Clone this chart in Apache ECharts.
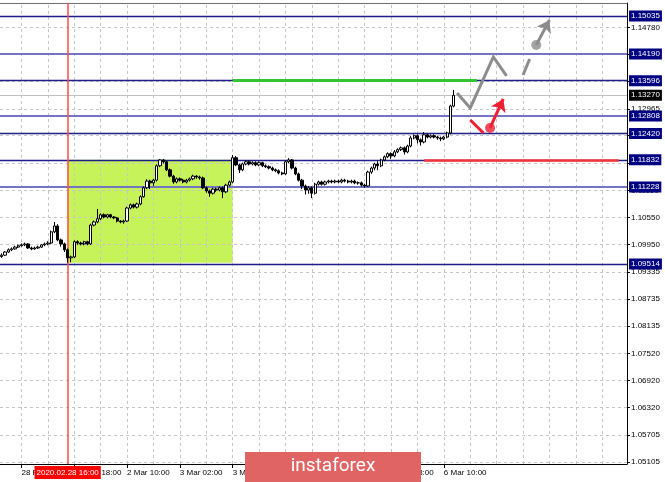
<!DOCTYPE html>
<html><head><meta charset="utf-8">
<script src="https://cdn.jsdelivr.net/npm/echarts@6/dist/echarts.min.js"></script>
<style>html,body{margin:0;padding:0;background:#fff}#c{width:665px;height:482px}</style>
</head><body><div id="c"></div>
<script>
// ---- data ----
const totalSlots = 190;               // hourly slots on the axis (incl. empty future space)
const startUTC = [2020, 1, 27, 20];   // first bar: 27 Feb 2020 20:00
// [open, close, low, high]
const candles = [
[1.0968,1.0971,1.0965,1.0975],[1.0971,1.0978,1.0969,1.0980],[1.0978,1.0983,1.0976,1.0986],[1.0983,1.0985,1.0980,1.0988],
[1.0985,1.0989,1.0983,1.0992],[1.0989,1.0992,1.0987,1.0995],[1.0992,1.0994,1.0990,1.0997],[1.0994,1.0996,1.0991,1.0999],
[1.0996,1.0987,1.0985,1.0998],[1.0987,1.0985,1.0982,1.0990],[1.0985,1.0987,1.0983,1.0990],[1.0987,1.0989,1.0985,1.0992],
[1.0989,1.0994,1.0987,1.0996],[1.0994,1.0996,1.0991,1.0999],[1.0996,1.0998,1.0993,1.1002],[1.0998,1.1023,1.0996,1.1026],
[1.1023,1.1036,1.1020,1.1045],[1.1036,1.1005,1.1002,1.1040],[1.1005,1.0996,1.0990,1.1008],[1.0996,1.0983,1.0978,1.0999],
[1.0983,1.0965,1.0954,1.0986],[1.0965,1.0967,1.0955,1.0970],[1.0967,1.1001,1.0965,1.1004],[1.1001,1.0998,1.0994,1.1004],
[1.0998,1.0996,1.0993,1.1001],[1.0996,1.1001,1.0993,1.1003],[1.1001,1.0996,1.0993,1.1003],[1.0996,1.1038,1.0994,1.1041],
[1.1038,1.1045,1.1035,1.1048],[1.1045,1.1052,1.1042,1.1074],[1.1052,1.1061,1.1049,1.1064],[1.1061,1.1056,1.1053,1.1064],
[1.1056,1.1061,1.1053,1.1063],[1.1061,1.1056,1.1053,1.1063],[1.1056,1.1054,1.1051,1.1058],[1.1054,1.1047,1.1044,1.1056],
[1.1047,1.1045,1.1042,1.1049],[1.1045,1.1047,1.1041,1.1050],[1.1047,1.1076,1.1045,1.1079],[1.1076,1.1083,1.1073,1.1086],
[1.1083,1.1078,1.1075,1.1086],[1.1078,1.1085,1.1075,1.1088],[1.1085,1.1101,1.1082,1.1104],[1.1101,1.1121,1.1099,1.1124],
[1.1121,1.1136,1.1118,1.1140],[1.1136,1.1132,1.1118,1.1139],[1.1132,1.1138,1.1125,1.1141],[1.1138,1.1170,1.1135,1.1173],
[1.1170,1.1183,1.1167,1.1185],[1.1183,1.1179,1.1175,1.1185],[1.1179,1.1161,1.1158,1.1181],[1.1161,1.1147,1.1144,1.1164],
[1.1147,1.1134,1.1130,1.1150],[1.1134,1.1141,1.1131,1.1144],[1.1141,1.1138,1.1135,1.1144],[1.1138,1.1134,1.1131,1.1141],
[1.1134,1.1138,1.1131,1.1141],[1.1138,1.1141,1.1135,1.1144],[1.1141,1.1147,1.1138,1.1150],[1.1147,1.1145,1.1141,1.1149],
[1.1145,1.1143,1.1139,1.1148],[1.1143,1.1121,1.1118,1.1146],[1.1121,1.1114,1.1110,1.1124],[1.1114,1.1109,1.1101,1.1117],
[1.1109,1.1118,1.1106,1.1121],[1.1118,1.1116,1.1112,1.1121],[1.1116,1.1121,1.1113,1.1124],[1.1121,1.1112,1.1098,1.1124],
[1.1112,1.1127,1.1109,1.1130],[1.1127,1.1134,1.1124,1.1137],[1.1134,1.1188,1.1131,1.1194],[1.1188,1.1172,1.1169,1.1192],
[1.1172,1.1161,1.1154,1.1175],[1.1161,1.1174,1.1158,1.1177],[1.1174,1.1179,1.1171,1.1182],[1.1179,1.1174,1.1171,1.1182],
[1.1174,1.1177,1.1171,1.1180],[1.1177,1.1172,1.1169,1.1180],[1.1172,1.1177,1.1169,1.1180],[1.1177,1.1170,1.1167,1.1179],
[1.1170,1.1168,1.1165,1.1173],[1.1168,1.1165,1.1162,1.1171],[1.1165,1.1161,1.1158,1.1168],[1.1161,1.1159,1.1156,1.1164],
[1.1159,1.1154,1.1151,1.1162],[1.1154,1.1152,1.1149,1.1157],[1.1152,1.1179,1.1150,1.1182],[1.1179,1.1183,1.1176,1.1187],
[1.1183,1.1165,1.1162,1.1185],[1.1165,1.1152,1.1149,1.1168],[1.1152,1.1138,1.1135,1.1155],[1.1138,1.1125,1.1118,1.1141],
[1.1125,1.1116,1.1106,1.1128],[1.1116,1.1121,1.1108,1.1125],[1.1121,1.1109,1.1098,1.1124],[1.1109,1.1129,1.1106,1.1132],
[1.1129,1.1134,1.1126,1.1137],[1.1134,1.1129,1.1126,1.1137],[1.1129,1.1134,1.1126,1.1137],[1.1134,1.1136,1.1131,1.1139],
[1.1136,1.1134,1.1131,1.1139],[1.1134,1.1136,1.1131,1.1139],[1.1136,1.1134,1.1131,1.1139],[1.1134,1.1138,1.1131,1.1141],
[1.1138,1.1136,1.1133,1.1141],[1.1136,1.1134,1.1131,1.1139],[1.1134,1.1136,1.1131,1.1139],[1.1136,1.1132,1.1129,1.1139],
[1.1132,1.1132,1.1128,1.1135],[1.1132,1.1127,1.1124,1.1135],[1.1127,1.1125,1.1121,1.1130],[1.1125,1.1156,1.1123,1.1159],
[1.1156,1.1165,1.1152,1.1168],[1.1165,1.1174,1.1160,1.1177],[1.1174,1.1170,1.1160,1.1180],[1.1170,1.1183,1.1167,1.1186],
[1.1183,1.1190,1.1180,1.1193],[1.1190,1.1197,1.1187,1.1200],[1.1197,1.1192,1.1185,1.1200],[1.1192,1.1201,1.1189,1.1205],
[1.1201,1.1206,1.1198,1.1209],[1.1206,1.1210,1.1203,1.1213],[1.1210,1.1201,1.1195,1.1213],[1.1201,1.1214,1.1198,1.1217],
[1.1214,1.1232,1.1211,1.1236],[1.1232,1.1237,1.1229,1.1240],[1.1237,1.1228,1.1220,1.1240],[1.1228,1.1223,1.1215,1.1231],
[1.1223,1.1239,1.1220,1.1245],[1.1239,1.1234,1.1231,1.1242],[1.1234,1.1237,1.1231,1.1240],[1.1237,1.1234,1.1231,1.1240],
[1.1234,1.1232,1.1228,1.1237],[1.1232,1.1230,1.1225,1.1235],[1.1230,1.1234,1.1227,1.1237],[1.1234,1.1243,1.1231,1.1246],
[1.1243,1.1303,1.1240,1.1306],[1.1303,1.1327,1.1300,1.1339]
];
const yTicks = [1.05105,1.05705,1.06320,1.06920,1.07520,1.08135,1.08735,1.09335,1.09950,1.10550,1.11150,1.11765,1.12380,1.12965,1.13580,1.14180,1.14780];
const xTickLabels = ['28 Feb 02:00','28 Feb 18:00','2 Mar 10:00','3 Mar 02:00','3 Mar 18:00','4 Mar 10:00','5 Mar 02:00','5 Mar 18:00','6 Mar 10:00'];
const levelsDark = [1.15035, 1.13596, 1.12420, 1.11832, 1.09514];
const levelsLight = [1.14190, 1.12808, 1.11228];
const bidPrice = 1.13270;
const crossIndex = 20, crossLabel = '2020.02.28 16:00';
const zoneFrom = 20, zoneTo = 70, zoneTop = 1.11832, zoneBottom = 1.0954;
const greenLine = [[70, 1.13596], [144, 1.13596]];
const redLine = [[128, 1.11832], [187, 1.11832]];
const grayPath = [[138, 1.13322], [142, 1.12988], [149, 1.14123], [153, 1.13700]];
const grayDash = [[158, 1.13722], [160, 1.14079]];
const grayDot = [162, 1.14390];
const grayArrow = [[162, 1.14390], [166, 1.14947]];
const redDash = [[142, 1.12720], [146, 1.12431]];
const redDot = [148, 1.12542];
const redArrow = [[148, 1.12542], [152, 1.13188]];
const yMin = 1.0506, yMax = 1.15325;

// ---- categories (hourly, weekends skipped) ----
const MON = ['Jan','Feb','Mar','Apr','May','Jun','Jul','Aug','Sep','Oct','Nov','Dec'];
const pad = n => (n < 10 ? '0' : '') + n;
const cats = [];
let t = Date.UTC(startUTC[0], startUTC[1], startUTC[2], startUTC[3]);
while (cats.length < totalSlots) {
  const d = new Date(t);
  const wd = d.getUTCDay();
  if (wd !== 0 && wd !== 6) cats.push(d.getUTCDate() + ' ' + MON[d.getUTCMonth()] + ' ' + pad(d.getUTCHours()) + ':00');
  t += 3600000;
}
const vGridIdx = [];
for (let i = 6; i < totalSlots; i += 8) vGridIdx.push(i);

const FONT = 'Liberation Sans';
const gridLine = {color: '#c6c6c6', type: [3, 3], width: 1};

const chart = echarts.init(document.getElementById('c'), null, {renderer: 'canvas'});
chart.setOption({
  animation: false,
  backgroundColor: '#fff',
  grid: {left: 0, right: 38, top: 3, bottom: 18, containLabel: false},
  xAxis: [{
    type: 'category', data: cats, boundaryGap: true,
    axisLine: {lineStyle: {color: '#000', width: 1}},
    axisTick: {show: true, alignWithLabel: true, length: 4, lineStyle: {color: '#000'},
      interval: (i, v) => xTickLabels.includes(v)},
    axisLabel: {interval: (i, v) => xTickLabels.includes(v), align: 'left', margin: 5,
      fontSize: 8, fontFamily: FONT, color: '#000'},
    splitLine: {show: false}
  }, {
    type: 'category', data: cats, position: 'top', boundaryGap: true,
    axisLine: {lineStyle: {color: '#6e6e6e', width: 1}},
    axisTick: {show: false}, axisLabel: {show: false}, splitLine: {show: false}
  }],
  yAxis: {
    type: 'value', position: 'right', min: yMin, max: yMax, scale: true,
    axisLine: {show: true, lineStyle: {color: '#000', width: 1}},
    axisTick: {show: true, length: 3, lineStyle: {color: '#000'}, customValues: yTicks},
    axisLabel: {customValues: yTicks, formatter: v => v.toFixed(5), margin: 4,
      fontSize: 8, fontFamily: FONT, color: '#000'},
    splitLine: {show: false}
  },
  series: [
    { // green zone
      type: 'line', data: [], z: 1, clip: false,
      markArea: {silent: true, itemStyle: {color: '#c6f35a'},
        data: [[{xAxis: cats[zoneFrom], yAxis: zoneTop}, {xAxis: cats[zoneTo], yAxis: zoneBottom}]]}
    },
    { // dashed grid
      type: 'line', data: [], z: 2, clip: false,
      markLine: {silent: true, precision: 6, symbol: ['none', 'none'], label: {show: false},
        data: yTicks.map(v => ({yAxis: v, lineStyle: gridLine}))
          .concat(vGridIdx.map(i => ({xAxis: cats[i], lineStyle: gridLine})))}
    },
    { // levels
      type: 'line', data: [], z: 3, clip: false,
      markLine: {silent: true, precision: 6, symbol: ['none', 'none'],
        data: levelsDark.map(v => ({yAxis: v, lineStyle: {color: '#1f1f8c', width: 1.3, type: 'solid'},
            label: {formatter: v.toFixed(5), backgroundColor: '#000080'}}))
          .concat(levelsLight.map(v => ({yAxis: v, lineStyle: {color: '#7474c0', width: 2, type: 'solid'},
            label: {formatter: v.toFixed(5), backgroundColor: '#000080'}})))
          .concat([{yAxis: bidPrice, lineStyle: {color: '#c0c0c0', width: 1, type: 'solid'},
            label: {formatter: bidPrice.toFixed(5), backgroundColor: '#000'}}]),
        label: {show: true, position: 'end', distance: 2, color: '#fff', fontSize: 8, fontFamily: FONT,
          padding: [2, 2, 1, 2], lineHeight: 8}}
    },
    { // crosshair
      type: 'line', data: [], z: 6, clip: false,
      markLine: {silent: true, symbol: ['none', 'none'],
        data: [{xAxis: cats[crossIndex]}],
        lineStyle: {color: '#ff4a4a', width: 1.5, type: 'solid'},
        label: {show: true, position: 'start', distance: 2, formatter: crossLabel,
          backgroundColor: '#ff0000', color: '#fff', fontSize: 8, fontFamily: FONT, padding: [3, 2, 2, 2]}}
    },
    {
      type: 'candlestick', data: candles, z: 5, barWidth: 2.8,
      itemStyle: {color: '#ffffff', color0: '#000000', borderColor: '#000000', borderColor0: '#000000', borderWidth: 1}
    },
    { // horizontal targets
      type: 'lines', coordinateSystem: 'cartesian2d', z: 7, silent: true,
      data: [{coords: greenLine, lineStyle: {color: '#33c433', width: 3}},
             {coords: redLine, lineStyle: {color: '#f23535', width: 2.5}}],
      lineStyle: {opacity: 1}
    },
    { // gray scenario
      type: 'lines', coordinateSystem: 'cartesian2d', polyline: true, z: 8, silent: true,
      symbol: ['none', 'arrow'], symbolSize: 12,
      data: [{coords: grayPath}],
      lineStyle: {color: '#8c8c8c', width: 3, opacity: 1}
    },
    {
      type: 'lines', coordinateSystem: 'cartesian2d', z: 8, silent: true,
      symbol: ['none', 'none'],
      data: [{coords: grayDash}],
      lineStyle: {color: '#8c8c8c', width: 3, opacity: 1}
    },
    {
      type: 'lines', coordinateSystem: 'cartesian2d', z: 8, silent: true,
      symbol: ['none', 'arrow'], symbolSize: 12,
      data: [{coords: grayArrow}],
      lineStyle: {color: '#8c8c8c', width: 3, opacity: 1}
    },
    { // red scenario
      type: 'lines', coordinateSystem: 'cartesian2d', z: 8, silent: true,
      symbol: ['none', 'none'],
      data: [{coords: redDash}],
      lineStyle: {color: '#f01e32', width: 3, opacity: 1}
    },
    {
      type: 'lines', coordinateSystem: 'cartesian2d', z: 8, silent: true,
      symbol: ['none', 'arrow'], symbolSize: 12,
      data: [{coords: redArrow}],
      lineStyle: {color: '#f01e32', width: 3, opacity: 1}
    },
    {
      type: 'scatter', z: 9, silent: true, symbolSize: 10,
      data: [{value: grayDot, itemStyle: {color: '#8c8c8c'}}, {value: redDot, itemStyle: {color: '#f01e32'}}]
    }
  ],
  graphic: [
    {type: 'rect', z: 100, shape: {x: 245, y: 452, width: 176, height: 30}, style: {fill: '#e06464'}},
    {type: 'text', z: 101, style: {text: 'instaforex', x: 333, y: 466, align: 'center', verticalAlign: 'middle',
      fontSize: 19, fontFamily: 'Roboto', fill: '#fff'}}
  ]
});
</script></body></html>
